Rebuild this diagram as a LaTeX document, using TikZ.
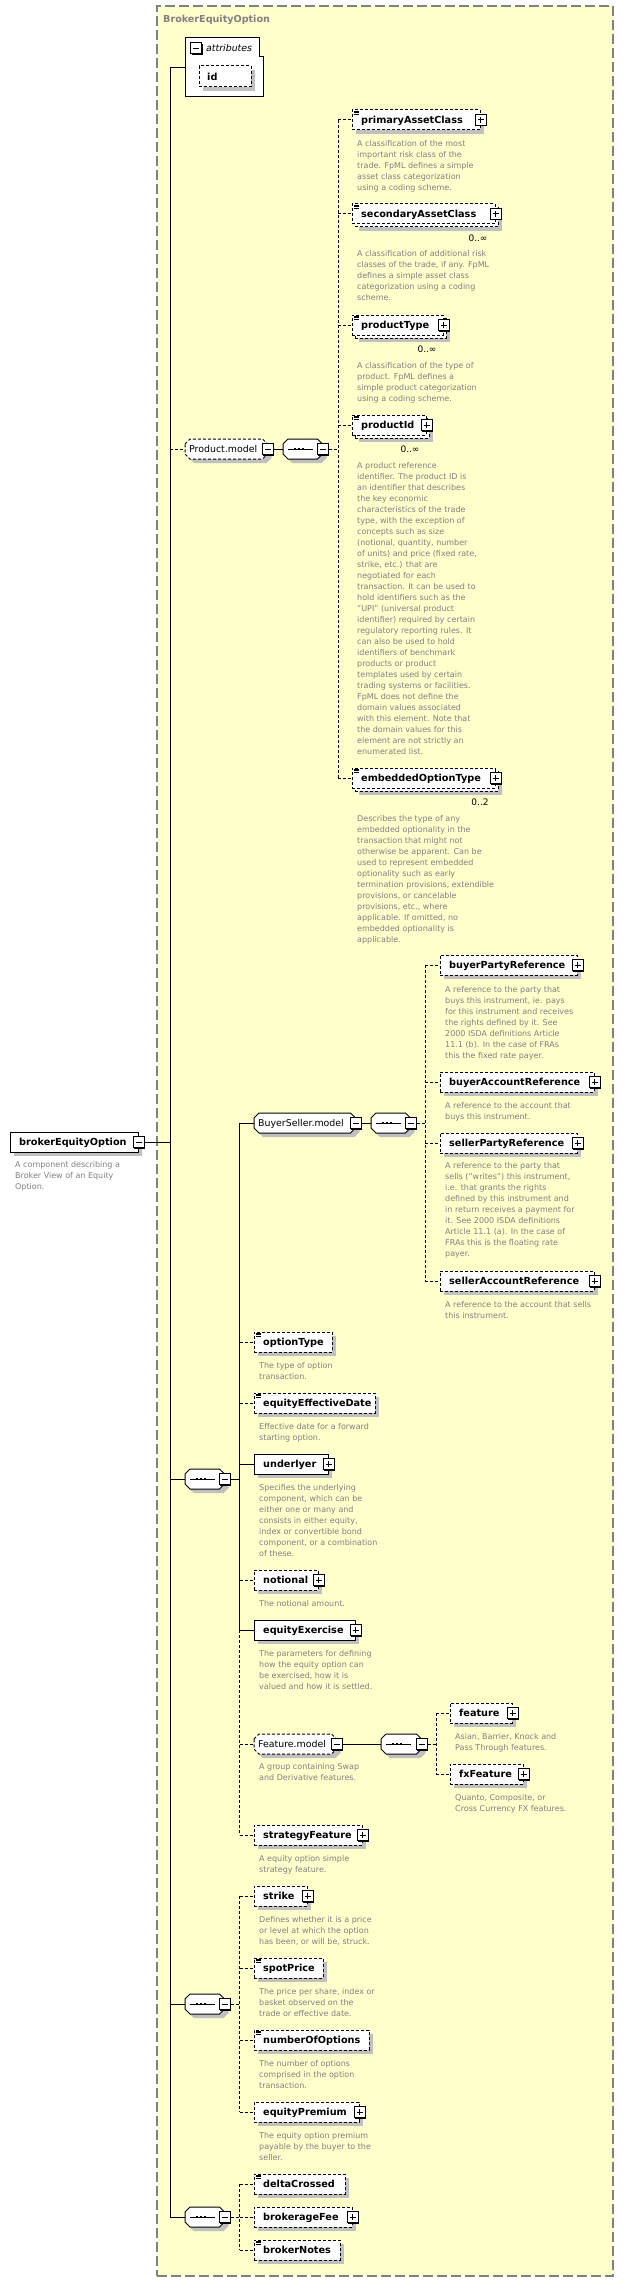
\documentclass[tikz,border=0pt]{standalone}
\usepackage{fontspec}
\setmainfont{DejaVu Sans}
\usetikzlibrary{calc,shadows}
\definecolor{bgyellow}{HTML}{FFFFCC}
\definecolor{framegray}{HTML}{808080}
\definecolor{descgray}{HTML}{808080}
\definecolor{shadowgray}{HTML}{C0C0C0}
\tikzset{
  ctbox/.style={rectangle, draw=framegray, fill=bgyellow, line width=1.3pt, dash pattern=on 10pt off 4pt, inner sep=0pt},
  ebox/.style={rectangle, draw=black, fill=white, minimum height=20pt, inner sep=0pt, line width=1pt},
  opt/.style={dash pattern=on 3pt off 2pt},
  shd/.style={drop shadow={shadow xshift=4pt, shadow yshift=-4pt, fill=shadowgray, opacity=1}},
  ename/.style={font=\fontsize{9.7}{11}\selectfont\bfseries, inner sep=0pt, anchor=base west},
  cname/.style={font=\fontsize{9.4}{11}\selectfont, inner sep=0pt, anchor=base west},
  ttl/.style={font=\fontsize{9.6}{11}\selectfont\bfseries, text=framegray, inner sep=0pt, anchor=base west},
  edesc/.style={font=\fontsize{8}{11}\selectfont, text=descgray, inner sep=0pt, anchor=north west, align=left},
  mult/.style={font=\fontsize{9}{11}\selectfont, inner sep=0pt, anchor=base},
  conn/.style={line width=1pt, draw=black},
  dconn/.style={conn, dash pattern=on 3pt off 2pt},
  pmb/.style={rectangle, draw=black, fill=white, minimum size=11pt, inner sep=0pt, line width=1pt,
    drop shadow={shadow xshift=1pt, shadow yshift=-1pt, fill=black, opacity=1}},
  pmminus/.style={pmb, path picture={\draw[line width=1pt] ([xshift=2.5pt]path picture bounding box.west) -- ([xshift=-2.5pt]path picture bounding box.east);}},
  pmplus/.style={pmb, path picture={\draw[line width=1pt] ([xshift=2.5pt]path picture bounding box.west) -- ([xshift=-2.5pt]path picture bounding box.east);
     \draw[line width=1pt] ([yshift=-2.5pt]path picture bounding box.north) -- ([yshift=2.5pt]path picture bounding box.south);}},
}
% element box: id, x1, x2, yc, style, label
\newcommand\EB[6]{%
  \node[ebox,shd,#5,minimum width={#3-#2}] (#1) at ({(#2+#3)/2},#4) {};
  \node[ename] (#1-t) at ({#2+9},{#4+3.8}) {#6};}
% multiple-occurrence box: id, x1, x2, yc, label, mult text, mult x
\newcommand\MB[7]{%
  \node[ebox,shd,opt,minimum width={#3-#2}] (#1-b) at ({(#2+#3)/2+3},{#4+3}) {};
  \node[ebox,opt,minimum width={#3-#2}] (#1) at ({(#2+#3)/2},#4) {};
  \node[ename] (#1-t) at ({#2+9},{#4+3.8}) {#5};
  \node[mult] (#1-m) at (#7,{#4+27.5}) {#6};}
\newcommand\PL[1]{\node[pmplus] (#1-pm) at (#1.east) {};}
\newcommand\MI[1]{\node[pmminus] (#1-pm) at (#1.east) {};}
\newcommand\EQ[1]{\foreach \k in {1.5,3.2,4.9}{\draw[line width=0.6pt] ($(#1.north west)+(2,\k)$) -- ++(5,0);}}
\newcommand\Oct[3]{({#1},{#3-5}) -- ({#1+5},{#3-10}) -- ({#2-5},{#3-10}) -- ({#2},{#3-5}) -- ({#2},{#3+5}) -- ({#2-5},{#3+10}) -- ({#1+5},{#3+10}) -- ({#1},{#3+5}) -- cycle}
% compositor group: id, x1, x2, yc, style, label
\newcommand\CB[6]{%
  \fill[shadowgray, shift={(4,4)}] \Oct{#2}{#3}{#4};
  \draw[fill=white, line width=1pt, #5] \Oct{#2}{#3}{#4};
  \node[inner sep=0pt, minimum height=20pt, minimum width={#3-#2}] (#1) at ({(#2+#3)/2},#4) {};
  \node[cname] (#1-t) at ({#2+4},{#4+3.5}) {#6};
  \node[pmminus] (#1-pm) at (#1.east) {};}
% sequence: id, x1, x2, yc
\newcommand\SQ[4]{%
  \fill[shadowgray, shift={(4,4)}] \Oct{#2}{#3}{#4};
  \draw[fill=white, line width=1pt] \Oct{#2}{#3}{#4};
  \node[inner sep=0pt, minimum height=20pt, minimum width={#3-#2}] (#1) at ({(#2+#3)/2},#4) {};
  \draw[line width=1pt] ({#2+5},#4) -- ({#2+30},#4);
  \fill ({#2+10.8},{#4-1.3}) rectangle +(2.6,2.6);
  \fill ({#2+14.8},{#4-1.3}) rectangle +(2.6,2.6);
  \fill ({#2+18.8},{#4-1.3}) rectangle +(2.6,2.6);
  \node[pmminus] (#1-pm) at (#1.east) {};}
\newcommand\Desc[4]{\node[edesc] (#1) at (#2,{#3-4.7}) {\strut #4};}

\begin{document}
\begin{tikzpicture}[x=1pt,y=-1pt]
\useasboundingbox (0,0) rectangle (623,2282);
\fill[white] (0,0) rectangle (623,2282);
\node[ctbox, minimum width=456pt, minimum height=2270pt] (ct) at (385,1141) {};
\node[ttl] (ttl) at (163,22.6) {BrokerEquityOption};

% attributes
\draw[fill=white, line width=1pt] (185,38) -- (259,38) -- (259,57) -- (263,57) -- (263,97) -- (185,97) -- cycle;
\node[inner sep=0pt, minimum width=78pt, minimum height=59pt] (attr) at (224,67.5) {};
\node[pmminus] (attr-pm) at (196,48.5) {};
\node[font=\fontsize{9.4}{11}\selectfont\itshape, inner sep=0pt, anchor=base west] (attr-t) at (206,52) {attributes};
\node[ebox,shd,opt,minimum width=52pt,minimum height=21pt] (id) at (225,76.5) {};
\node[ename] (id-t) at (207,80.3) {id};

% root
\EB{beo}{10}{138}{1142}{}{brokerEquityOption} \MI{beo}
\Desc{beo-d}{15}{1164}{A component describing a\\Broker View of an Equity\\Option.}

% Product.model
\CB{pm}{185}{267.5}{449}{opt}{Product.model}
\SQ{pseq}{283}{322.5}{449}
\EB{pac}{352}{480}{120}{opt}{primaryAssetClass} \PL{pac} \EQ{pac}
\Desc{pac-d}{357}{143}{A classification of the most\\important risk class of the\\trade. FpML defines a simple\\asset class categorization\\using a coding scheme.}
\MB{sac}{352}{495}{214}{secondaryAssetClass}{0..∞}{478} \PL{sac} \EQ{sac}
\Desc{sac-d}{357}{253}{A classification of additional risk\\classes of the trade, if any. FpML\\defines a simple asset class\\categorization using a coding\\scheme.}
\MB{pt}{352}{443}{325}{productType}{0..∞}{427} \PL{pt} \EQ{pt}
\Desc{pt-d}{357}{365}{A classification of the type of\\product. FpML defines a\\simple product categorization\\using a coding scheme.}
\MB{pid}{352}{426}{425}{productId}{0..∞}{410} \PL{pid} \EQ{pid}
\Desc{pid-d}{357}{465}{A product reference\\identifier. The product ID is\\an identifier that describes\\the key economic\\characteristics of the trade\\type, with the exception of\\concepts such as size\\(notional, quantity, number\\of units) and price (fixed rate,\\strike, etc.) that are\\negotiated for each\\transaction. It can be used to\\hold identifiers such as the\\"UPI" (universal product\\identifier) required by certain\\regulatory reporting rules. It\\can also be used to hold\\identifiers of benchmark\\products or product\\templates used by certain\\trading systems or facilities.\\FpML does not define the\\domain values associated\\with this element. Note that\\the domain values for this\\element are not strictly an\\enumerated list.}
\MB{eot}{352}{495}{778}{embeddedOptionType}{0..2}{480} \PL{eot} \EQ{eot}
\Desc{eot-d}{357}{818}{Describes the type of any\\embedded optionality in the\\transaction that might not\\otherwise be apparent. Can be\\used to represent embedded\\optionality such as early\\termination provisions, extendible\\provisions, or cancelable\\provisions, etc., where\\applicable. If omitted, no\\embedded optionality is\\applicable.}

% BuyerSeller.model
\CB{bsm}{254}{355.5}{1123}{}{BuyerSeller.model}
\SQ{bseq}{371}{410.5}{1123}
\EB{bpr}{440}{577}{965}{opt}{buyerPartyReference} \PL{bpr}
\Desc{bpr-d}{445}{989}{A reference to the party that\\buys this instrument, ie. pays\\for this instrument and receives\\the rights defined by it. See\\2000 ISDA definitions Article\\11.1 (b). In the case of FRAs\\this the fixed rate payer.}
\EB{bar}{440}{594}{1082}{opt}{buyerAccountReference} \PL{bar}
\Desc{bar-d}{445}{1105}{A reference to the account that\\buys this instrument.}
\EB{spr}{440}{577}{1143}{opt}{sellerPartyReference} \PL{spr}
\Desc{spr-d}{445}{1165}{A reference to the party that\\sells ("writes") this instrument,\\i.e. that grants the rights\\defined by this instrument and\\in return receives a payment for\\it. See 2000 ISDA definitions\\Article 11.1 (a). In the case of\\FRAs this is the floating rate\\payer.}
\EB{sar}{440}{594}{1281}{opt}{sellerAccountReference} \PL{sar}
\Desc{sar-d}{445}{1304}{A reference to the account that sells\\this instrument.}

% main sequence
\SQ{seq2}{185}{224.5}{1479}
\EB{ot}{254}{332}{1342}{opt}{optionType} \EQ{ot}
\Desc{ot-d}{259}{1365}{The type of option\\transaction.}
\EB{eed}{254}{375}{1403}{opt}{equityEffectiveDate} \EQ{eed}
\Desc{eed-d}{259}{1426}{Effective date for a forward\\starting option.}
\EB{und}{254}{328}{1464}{}{underlyer} \PL{und}
\Desc{und-d}{259}{1487}{Specifies the underlying\\component, which can be\\either one or many and\\consists in either equity,\\index or convertible bond\\component, or a combination\\of these.}
\EB{not}{254}{318}{1580}{opt}{notional} \PL{not}
\Desc{not-d}{259}{1603}{The notional amount.}
\EB{eex}{254}{355}{1630}{}{equityExercise} \PL{eex}
\Desc{eex-d}{259}{1653}{The parameters for defining\\how the equity option can\\be exercised, how it is\\valued and how it is settled.}
\CB{fm}{254}{336.5}{1744}{opt}{Feature.model}
\Desc{fm-d}{259}{1766}{A group containing Swap\\and Derivative features.}
\SQ{fseq}{381}{421.5}{1744}
\EB{feat}{450}{512}{1713}{opt}{feature} \PL{feat}
\Desc{feat-d}{455}{1736}{Asian, Barrier, Knock and\\Pass Through features.}
\EB{fxf}{450}{523}{1774}{opt}{fxFeature} \PL{fxf}
\Desc{fxf-d}{455}{1797}{Quanto, Composite, or\\Cross Currency FX features.}
\EB{stf}{254}{362}{1835}{opt}{strategyFeature} \PL{stf}
\Desc{stf-d}{259}{1858}{A equity option simple\\strategy feature.}

% third sequence
\SQ{seq3}{185}{224.5}{2004}
\EB{stk}{254}{307}{1896}{opt}{strike} \PL{stk}
\Desc{stk-d}{259}{1919}{Defines whether it is a price\\or level at which the option\\has been, or will be, struck.}
\EB{spp}{254}{323}{1968}{opt}{spotPrice} \EQ{spp}
\Desc{spp-d}{259}{1991}{The price per share, index or\\basket observed on the\\trade or effective date.}
\EB{noo}{254}{369}{2040}{opt}{numberOfOptions} \EQ{noo}
\Desc{noo-d}{259}{2063}{The number of options\\comprised in the option\\transaction.}
\EB{eqp}{254}{359}{2112}{opt}{equityPremium} \PL{eqp}
\Desc{eqp-d}{259}{2135}{The equity option premium\\payable by the buyer to the\\seller.}

% fourth sequence
\SQ{seq4}{185}{224.5}{2217}
\EB{dc}{254}{345}{2184}{opt}{deltaCrossed} \EQ{dc}
\EB{bf}{254}{352}{2217}{opt}{brokerageFee} \PL{bf}
\EB{bn}{254}{340}{2250}{opt}{brokerNotes} \EQ{bn}

% spine coordinates
\coordinate (s1) at (170,0);
\coordinate (s2) at (239.5,0);
\coordinate (sp) at (338,0);
\coordinate (sb) at (425,0);
\coordinate (sf) at (436,0);

% connectors: root level
\draw[conn] (attr.west) -- (s1 |- attr.west) -- (s1 |- seq4.west) -- (seq4.west);
\draw[conn] (beo-pm.east) -- (s1 |- beo-pm.east);
\draw[dconn] (s1 |- pm.west) -- (pm.west);
\draw[conn] (s1 |- seq2.west) -- (seq2.west);
\draw[conn] (s1 |- seq3.west) -- (seq3.west);

% Product.model
\draw[conn] (pm-pm.east) -- (pseq.west);
\draw[dconn] (pseq-pm.east) -- (sp |- pseq-pm.east);
\draw[dconn] (sp |- pac.west) -- (sp |- eot.west);
\foreach \n in {pac,sac,pt,pid,eot} {\draw[dconn] (sp |- \n.west) -- (\n.west);}

% main sequence
\draw[conn] (seq2-pm.east) -- (s2 |- seq2-pm.east);
\draw[conn] (s2 |- bsm.west) -- (s2 |- eex.west);
\draw[dconn] (s2 |- eex.west) -- (s2 |- stf.west);
\draw[conn] (s2 |- bsm.west) -- (bsm.west);
\draw[conn] (s2 |- und.west) -- (und.west);
\draw[conn] (s2 |- eex.west) -- (eex.west);
\foreach \n in {ot,eed,not,fm,stf} {\draw[dconn] (s2 |- \n.west) -- (\n.west);}

% BuyerSeller.model
\draw[conn] (bsm-pm.east) -- (bseq.west);
\draw[dconn] (bseq-pm.east) -- (sb |- bseq-pm.east);
\draw[dconn] (sb |- bpr.west) -- (sb |- sar.west);
\foreach \n in {bpr,bar,spr,sar} {\draw[dconn] (sb |- \n.west) -- (\n.west);}

% Feature.model
\draw[conn] (fm-pm.east) -- (fseq.west);
\draw[dconn] (fseq-pm.east) -- (sf |- fseq-pm.east);
\draw[dconn] (sf |- feat.west) -- (sf |- fxf.west);
\foreach \n in {feat,fxf} {\draw[dconn] (sf |- \n.west) -- (\n.west);}

% third sequence
\draw[dconn] (seq3-pm.east) -- (s2 |- seq3-pm.east);
\draw[dconn] (s2 |- stk.west) -- (s2 |- eqp.west);
\foreach \n in {stk,spp,noo,eqp} {\draw[dconn] (s2 |- \n.west) -- (\n.west);}

% fourth sequence
\draw[dconn] (seq4-pm.east) -- (s2 |- seq4-pm.east);
\draw[dconn] (s2 |- dc.west) -- (s2 |- bn.west);
\foreach \n in {dc,bf,bn} {\draw[dconn] (s2 |- \n.west) -- (\n.west);}
\end{tikzpicture}
\end{document}
